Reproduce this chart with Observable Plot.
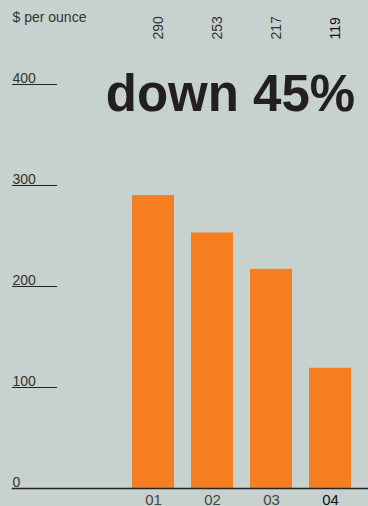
<!DOCTYPE html>
<html>
<head>
<meta charset="utf-8">
<script src="https://cdn.jsdelivr.net/npm/d3@7"></script>
<script src="https://cdn.jsdelivr.net/npm/@observablehq/plot@0.6"></script>
<style>
  html, body { margin: 0; padding: 0; background: #c7d1ce; }
  #chart svg { display: block; }
</style>
</head>
<body>
<div id="chart"></div>
<script>
const quarters = ["01", "02", "03", "04"];
const prices = [290, 253, 217, 119];
const yTicks = [0, 100, 200, 300, 400];
const unitLabel = "$ per ounce";
const headline = "down 45%";

const data = quarters.map((q, i) => ({q, v: prices[i], last: i === quarters.length - 1}));

const W = 368, H = 506;
const mL = 122, mR = 7.4, mT = 84, mB = 18;
const font = "'Liberation Sans', Arial, Helvetica, sans-serif";

const chart = Plot.plot({
  width: W,
  height: H,
  marginLeft: mL,
  marginRight: mR,
  marginTop: mT,
  marginBottom: mB,
  style: {background: "#c7d1ce", fontFamily: font, overflow: "visible"},
  x: {type: "band", domain: quarters, paddingInner: 0.296, paddingOuter: 0.148, axis: null},
  y: {domain: [0, 400], axis: null},
  marks: [
    Plot.barY(data, {x: "q", y: "v", fill: "#f47e20"}),
    // y tick underlines
    Plot.axisY(yTicks, {tickSize: 45, dx: -65, fill: "none", stroke: "#222", strokeWidth: 1.2, strokeOpacity: 1}),
    // y tick labels
    Plot.text(yTicks, {y: d => d, text: d => String(d), frameAnchor: "left", dx: 12 - mL, dy: -2,
      textAnchor: "start", lineAnchor: "bottom", fontSize: 14, fill: "#333"}),
    // baseline
    Plot.frame({anchor: "bottom", insetLeft: 12 - mL, insetRight: -mR, stroke: "#222", strokeWidth: 1.5}),
    // x labels
    Plot.text(data, {x: "q", text: "q", frameAnchor: "bottom", dy: 6, lineAnchor: "top",
      fontSize: 15, fill: d => d.last ? "#111" : "#444", fontWeight: d => d.last ? "bold" : "normal"}),
    // value labels at top, rotated
    Plot.text(data, {x: "q", text: d => String(d.v), frameAnchor: "top", dy: -45, rotate: -90,
      textAnchor: "start", fontSize: 14, fill: d => d.last ? "#111" : "#333"}),
    // unit label
    Plot.text([unitLabel], {text: d => d, frameAnchor: "top-left", dx: 12 - mL, dy: -72,
      textAnchor: "start", lineAnchor: "top", fontSize: 14, fill: "#333"}),
    // headline
    Plot.text([headline], {text: d => d, frameAnchor: "top-right", dx: -6, dy: 10,
      textAnchor: "end", lineAnchor: "middle", fontSize: 51, fontWeight: "bold", fill: "#231f20",
      letterSpacing: -1})
  ]
});
document.getElementById("chart").append(chart);
</script>
</body>
</html>
